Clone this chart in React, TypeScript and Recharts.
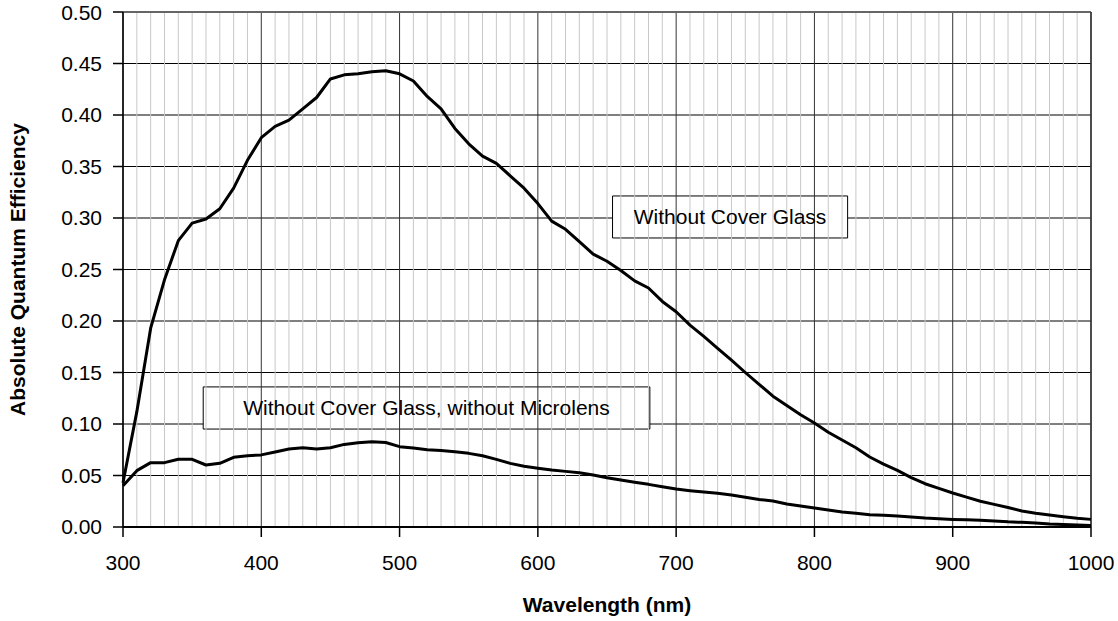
import React from 'react';
import { LineChart, Line, XAxis, YAxis, CartesianGrid, ReferenceLine, ReferenceArea } from 'recharts';

// wavelength samples (nm)
const wavelengths = [
  300, 310, 320, 330, 340, 350, 360, 370, 380, 390,
  400, 410, 420, 430, 440, 450, 460, 470, 480, 490,
  500, 510, 520, 530, 540, 550, 560, 570, 580, 590,
  600, 610, 620, 630, 640, 650, 660, 670, 680, 690,
  700, 710, 720, 730, 740, 750, 760, 770, 780, 790,
  800, 810, 820, 830, 840, 850, 860, 870, 880, 890,
  900, 910, 920, 930, 940, 950, 960, 970, 980, 990,
  1000,
];

// QE without cover glass
const withoutGlass = [
  0.043, 0.112, 0.193, 0.240, 0.278, 0.295, 0.299, 0.309, 0.329, 0.356,
  0.378, 0.389, 0.395, 0.406, 0.417, 0.435, 0.439, 0.440, 0.442, 0.443,
  0.440, 0.433, 0.418, 0.406, 0.387, 0.372, 0.360, 0.353, 0.341, 0.329,
  0.314, 0.297, 0.289, 0.277, 0.265, 0.258, 0.249, 0.239, 0.232, 0.219,
  0.209, 0.196, 0.185, 0.1735, 0.162, 0.150, 0.1385, 0.127, 0.118, 0.109,
  0.101, 0.092, 0.0845, 0.077, 0.068, 0.061, 0.055, 0.048, 0.042, 0.0375,
  0.033, 0.029, 0.025, 0.022, 0.019, 0.0155, 0.0133, 0.0117, 0.010, 0.0084,
  0.0074,
];

// QE without cover glass and without microlens
const withoutMicrolens = [
  0.040, 0.0547, 0.0625, 0.0625, 0.0657, 0.0657, 0.0602, 0.0618, 0.0677, 0.0692,
  0.070, 0.0728, 0.0757, 0.077, 0.0757, 0.077, 0.0802, 0.0818, 0.0828, 0.082,
  0.078, 0.0767, 0.075, 0.0742, 0.0731, 0.0715, 0.0692, 0.0657, 0.0618, 0.059,
  0.057, 0.0553, 0.054, 0.0527, 0.0505, 0.0479, 0.0456, 0.0434, 0.0414, 0.039,
  0.0369, 0.0353, 0.034, 0.0327, 0.031, 0.0288, 0.0268, 0.0252, 0.0223, 0.0204,
  0.0184, 0.0165, 0.0146, 0.0133, 0.012, 0.0113, 0.0107, 0.0097, 0.0087, 0.008,
  0.0074, 0.007, 0.0065, 0.0058, 0.005, 0.0045, 0.004, 0.003, 0.0025, 0.002,
  0.0015,
];

const xTicks = [300, 400, 500, 600, 700, 800, 900, 1000];
const yTicks = [0, 0.05, 0.1, 0.15, 0.2, 0.25, 0.3, 0.35, 0.4, 0.45, 0.5];
const minorX = wavelengths.filter((w) => w % 100 !== 0);

const data = wavelengths.map((wl, i) => ({ wl, a: withoutGlass[i], b: withoutMicrolens[i] }));

const FONT = '"Liberation Sans", Arial, sans-serif';

export default function App() {
  return (
    <div style={{ position: 'absolute', left: 0, top: 0, background: '#fff' }}>
      <LineChart
        width={1118}
        height={621}
        data={data}
        margin={{ top: 12, right: 27, left: 0, bottom: 0 }}
        style={{ fontFamily: FONT }}
      >
        {minorX.map((v) => (
          <ReferenceLine key={'m' + v} x={v} stroke="#c8c8c8" strokeWidth={1} />
        ))}
        {xTicks.map((v) => (
          <ReferenceLine key={'M' + v} x={v} stroke="#333" strokeWidth={1} />
        ))}
        <CartesianGrid vertical={false} stroke="#000" strokeWidth={1} />
        <ReferenceLine y={0.5} stroke="#666" strokeWidth={2} />
        <ReferenceLine x={1000} stroke="#333" strokeWidth={1.5} />
        <XAxis
          dataKey="wl"
          type="number"
          domain={[300, 1000]}
          ticks={xTicks}
          height={94}
          tickSize={10}
          tickMargin={18}
          stroke="#000"
          axisLine={{ stroke: '#000', strokeWidth: 2 }}
          tickLine={{ stroke: '#000', strokeWidth: 1.5 }}
          tick={{ fill: '#000', fontSize: 21 }}
          label={{ value: 'Wavelength (nm)', position: 'insideBottom', offset: 9, fill: '#000', fontSize: 21, fontWeight: 'bold' }}
        />
        <YAxis
          type="number"
          domain={[0, 0.5]}
          ticks={yTicks}
          width={123}
          tickSize={10}
          tickMargin={11}
          stroke="#000"
          axisLine={{ stroke: '#000', strokeWidth: 1.5 }}
          tickLine={{ stroke: '#000', strokeWidth: 1.5 }}
          tick={{ fill: '#000', fontSize: 21 }}
          tickFormatter={(v: number) => v.toFixed(2)}
          label={{ value: 'Absolute Quantum Efficiency', angle: -90, position: 'center', dx: -44, fill: '#000', fontSize: 21, fontWeight: 'bold' }}
        />
        <ReferenceArea
          x1={654}
          x2={824}
          y1={0.2806}
          y2={0.3214}
          fill="#fff"
          fillOpacity={1}
          stroke="#000"
          strokeWidth={1}
          label={{ value: 'Without Cover Glass', position: 'center', fill: '#000', fontSize: 21 }}
        />
        <ReferenceArea
          x1={358}
          x2={681}
          y1={0.0951}
          y2={0.136}
          fill="#fff"
          fillOpacity={1}
          stroke="#000"
          strokeWidth={1}
          label={{ value: 'Without Cover Glass, without Microlens', position: 'center', fill: '#000', fontSize: 21 }}
        />
        <Line type="linear" dataKey="a" stroke="#000" strokeWidth={3} dot={false} isAnimationActive={false} strokeLinejoin="round" />
        <Line type="linear" dataKey="b" stroke="#000" strokeWidth={3} dot={false} isAnimationActive={false} strokeLinejoin="round" />
      </LineChart>
    </div>
  );
}
